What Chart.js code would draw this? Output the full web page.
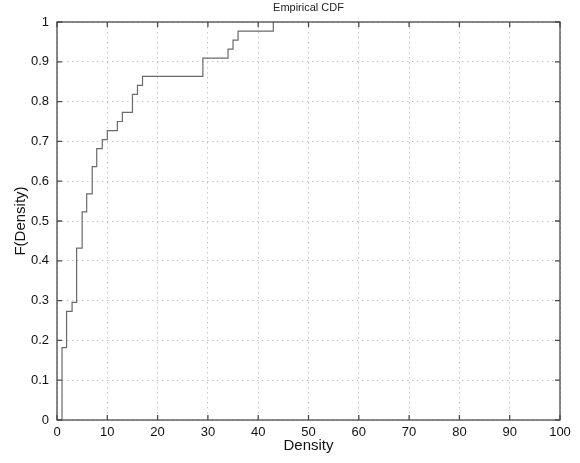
<!DOCTYPE html>
<html>
<head>
<meta charset="utf-8">
<title>Empirical CDF</title>
<script src="https://cdn.jsdelivr.net/npm/chart.js@4.4.0/dist/chart.umd.min.js"></script>
<style>
    html, body { margin: 0; padding: 0; background: #ffffff; }
    #wrap { width: 580px; height: 463px; position: relative; }
</style>
</head>
<body>
<div id="wrap"><canvas id="cdfChart" width="580" height="463"></canvas></div>
<script>
// Точки ступенів емпіричної функції розподілу (x — густина, F — накопичена частка)
const stepDensity = [1, 1, 1.9, 3, 3.9, 5, 5.9, 7, 7.9, 9, 10, 12, 13, 15, 16, 17, 29, 34, 35, 36, 43];
const stepF = [0, 0.1818, 0.2727, 0.2955, 0.4318, 0.5227, 0.5682, 0.6364, 0.6818, 0.7045, 0.7273,
               0.7500, 0.7727, 0.8182, 0.8409, 0.8636, 0.9091, 0.9318, 0.9545, 0.9773, 1.0];

const xTicks = [0, 10, 20, 30, 40, 50, 60, 70, 80, 90, 100];
const yTicks = [0, 0.1, 0.2, 0.3, 0.4, 0.5, 0.6, 0.7, 0.8, 0.9, 1];

const chartTitle = "Empirical CDF";
const xTitle = "Density";
const yTitle = "F(Density)";

const FONT = "'Liberation Sans', Arial, Helvetica, sans-serif";

// Рамка осей з внутрішніми рисками на всіх чотирьох сторонах + заголовок
const axesBox = {
    id: 'axesBox',
    afterDraw(chart) {
        const { ctx, chartArea: a, scales: { x, y } } = chart;
        const tick = 5;
        ctx.save();
        ctx.strokeStyle = '#4a4a4a';
        ctx.lineWidth = 1.3;
        ctx.strokeRect(a.left, a.top, a.right - a.left, a.bottom - a.top);

        ctx.beginPath();
        xTicks.forEach(v => {
            const px = x.getPixelForValue(v);
            ctx.moveTo(px, a.bottom); ctx.lineTo(px, a.bottom - tick);
            ctx.moveTo(px, a.top); ctx.lineTo(px, a.top + tick);
        });
        yTicks.forEach(v => {
            const py = y.getPixelForValue(v);
            ctx.moveTo(a.left, py); ctx.lineTo(a.left + tick, py);
            ctx.moveTo(a.right, py); ctx.lineTo(a.right - tick, py);
        });
        ctx.stroke();

        ctx.fillStyle = '#222';
        ctx.font = `11px ${FONT}`;
        ctx.textAlign = 'center';
        ctx.textBaseline = 'middle';
        ctx.fillText(chartTitle, (a.left + a.right) / 2, 8);
        ctx.restore();
    }
};

const ctx = document.getElementById('cdfChart').getContext('2d');

new Chart(ctx, {
    type: 'scatter',
    plugins: [axesBox],
    data: {
        datasets: [{
            data: stepDensity.map((v, i) => ({ x: v, y: stepF[i] })),
            showLine: true,
            stepped: 'before',
            borderColor: '#6a6a6a',
            borderWidth: 1.2,
            pointRadius: 0,
            fill: false
        }]
    },
    options: {
        responsive: false,
        animation: false,
        layout: { padding: { left: 0, top: 22, right: 20, bottom: 0 } },
        plugins: {
            legend: { display: false },
            tooltip: { enabled: false },
            title: { display: false }
        },
        scales: {
            x: {
                type: 'linear',
                min: 0,
                max: 100,
                afterFit: (scale) => { scale.height = 43; },
                afterBuildTicks: (scale) => { scale.ticks = xTicks.map(v => ({ value: v })); },
                grid: { color: '#c4c4c4', drawTicks: false },
                border: { display: false, dash: [1.5, 3.5] },
                ticks: {
                    color: '#111',
                    padding: 5,
                    maxRotation: 0,
                    font: { family: FONT, size: 13 }
                },
                title: {
                    display: true,
                    text: xTitle,
                    color: '#111',
                    font: { family: FONT, size: 15 },
                    padding: { top: 0, bottom: 8 }
                }
            },
            y: {
                type: 'linear',
                min: 0,
                max: 1,
                afterFit: (scale) => { scale.width = 57; },
                afterBuildTicks: (scale) => { scale.ticks = yTicks.map(v => ({ value: v })); },
                grid: { color: '#c4c4c4', drawTicks: false },
                border: { display: false, dash: [1.5, 3.5] },
                ticks: {
                    color: '#111',
                    padding: 8,
                    font: { family: FONT, size: 13 },
                    callback: (v) => String(Math.round(v * 10) / 10)
                },
                title: {
                    display: true,
                    text: yTitle,
                    color: '#111',
                    font: { family: FONT, size: 15 },
                    padding: { top: 12, bottom: 0 }
                }
            }
        }
    }
});
</script>
</body>
</html>
